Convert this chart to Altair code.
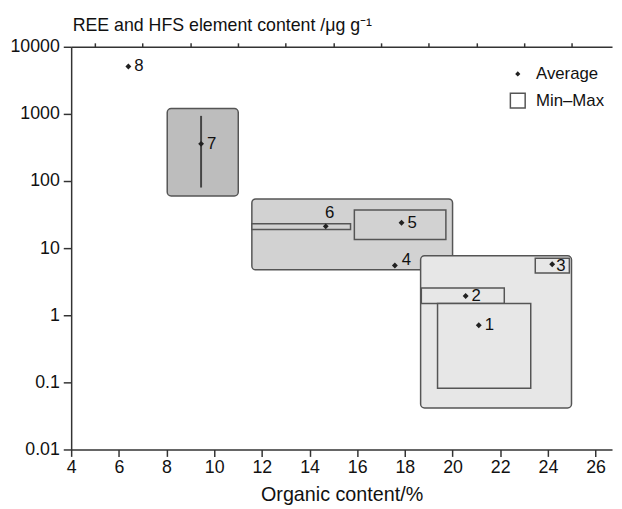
import altair as alt
import pandas as pd

# ---- data ----
# outer (rounded) min-max envelopes
outer_group = ["7", "4-6", "1-3"]
outer_xmin = [8.03, 11.58, 18.66]
outer_xmax = [11.01, 20.00, 24.99]
outer_ymin = [60.0, 4.75, 0.0415]
outer_ymax = [1200.0, 54.0, 7.7]

# inner min-max boxes of individual samples
inner_name = ["6", "5", "3", "2", "1"]
inner_group = ["4-6", "4-6", "1-3", "1-3", "1-3"]
inner_xmin = [11.58, 15.88, 23.47, 18.69, 19.37]
inner_xmax = [15.72, 19.72, 24.90, 22.17, 23.28]
inner_ymin = [19.0, 13.4, 4.25, 1.5, 0.082]
inner_ymax = [23.1, 37.0, 7.05, 2.55, 1.5]

# vertical range of sample 7
range7_x = [9.45]
range7_ymin = [80.0]
range7_ymax = [935.0]

# averages
avg_label = ["1", "2", "3", "4", "5", "6", "7", "8"]
avg_x = [21.10, 20.55, 24.18, 17.58, 17.86, 14.68, 9.45, 6.40]
avg_y = [0.71, 1.94, 5.75, 5.5, 23.9, 21.1, 358.0, 5080.0]

x_major = [4, 6, 8, 10, 12, 14, 16, 18, 20, 22, 24, 26]
x_minor = [5, 7, 9, 11, 13, 15, 17, 19, 21, 23, 25]
y_ticks = [0.01, 0.1, 1, 10, 100, 1000, 10000]

legend_kinds = ["Average", "Min–Max"]

outer_df = pd.DataFrame({"group": outer_group, "xmin": outer_xmin, "xmax": outer_xmax,
                         "ymin": outer_ymin, "ymax": outer_ymax})
inner_df = pd.DataFrame({"name": inner_name, "group": inner_group, "xmin": inner_xmin,
                         "xmax": inner_xmax, "ymin": inner_ymin, "ymax": inner_ymax})
range_df = pd.DataFrame({"x": range7_x, "ymin": range7_ymin, "ymax": range7_ymax})
avg_df = pd.DataFrame({"label": avg_label, "x": avg_x, "y": avg_y,
                       "kind": ["Average"] * len(avg_label)})

FONT = "Liberation Sans"
AX = "#333333"

xs = alt.Scale(domain=[4, 26.69], nice=False, zero=False)
ys = alt.Scale(type="log", domain=[0.01, 10000], nice=False)

fill_scale = alt.Scale(domain=["7", "4-6", "1-3"], range=["#bdbdbd", "#d2d2d2", "#e7e7e7"])

x_axis_major = alt.Axis(values=x_major, format="d", title="Organic content/%",
                        titleFontSize=20, titleFontWeight="normal", titleColor="#111",
                        titleY=52, titleBaseline="alphabetic",
                        labelFontSize=18, labelColor="#111", labelPadding=2, labelFlush=False,
                        tickSize=7, tickWidth=1.5, tickColor=AX,
                        domainColor=AX, domainWidth=1.5, grid=False)
x_axis_minor = alt.Axis(values=x_minor, labels=False, domain=False, title=None,
                        tickSize=4, tickWidth=1.5, tickColor=AX, grid=False)
x_axis_top = alt.Axis(orient="top", labels=False, ticks=False, title=None,
                      domain=True, domainColor=AX, domainWidth=1.5, grid=False)
y_axis = alt.Axis(values=y_ticks, format="~g", labelFontSize=18, labelColor="#111",
                  labelPadding=4, labelOverlap=False, labelFlush=False,
                  tickSize=8, tickWidth=1.5, tickColor=AX,
                  domainColor=AX, domainWidth=1.5, grid=False,
                  title="REE and HFS element content /μg g⁻¹", titleAngle=0,
                  titleAlign="left", titleX=1, titleY=-16, titleBaseline="alphabetic",
                  titleFontSize=18, titleFontWeight="normal", titleColor="#111")

outer = alt.Chart(outer_df).mark_rect(cornerRadius=4, stroke="#555555", strokeWidth=1.5).encode(
    x=alt.X("xmin:Q", scale=xs, axis=x_axis_major),
    x2="xmax:Q",
    y=alt.Y("ymin:Q", scale=ys, axis=y_axis),
    y2="ymax:Q",
    fill=alt.Fill("group:N", scale=fill_scale, legend=None),
)

inner = alt.Chart(inner_df).mark_rect(stroke="#555555", strokeWidth=1.5).encode(
    x=alt.X("xmin:Q", scale=xs, axis=x_axis_minor),
    x2="xmax:Q",
    y=alt.Y("ymin:Q", scale=ys, axis=None),
    y2="ymax:Q",
    fill=alt.Fill("group:N", scale=fill_scale, legend=None),
)

rule7 = alt.Chart(range_df).mark_rule(color="#444444", strokeWidth=2).encode(
    x=alt.X("x:Q", scale=xs, axis=x_axis_top),
    y=alt.Y("ymin:Q", scale=ys, axis=None),
    y2="ymax:Q",
)

leg = alt.Legend(title=None, orient="none", legendX=444, legendY=19, padding=0,
                 labelFontSize=17, labelFont=FONT, labelColor="#111", labelOffset=10,
                 rowPadding=8, symbolStrokeWidth=1.5)

dots = alt.Chart(avg_df).mark_point(filled=True, opacity=1).encode(
    x=alt.X("x:Q", scale=xs, axis=None),
    y=alt.Y("y:Q", scale=ys, axis=None),
    color=alt.Color("kind:N", scale=alt.Scale(domain=legend_kinds, range=["#222222", "#ffffff"]), legend=leg),
    stroke=alt.Stroke("kind:N", scale=alt.Scale(domain=legend_kinds, range=["#222222", "#555555"]), legend=leg),
    shape=alt.Shape("kind:N", scale=alt.Scale(domain=legend_kinds, range=["diamond", "square"]), legend=leg),
    size=alt.Size("kind:N", scale=alt.Scale(domain=legend_kinds, range=[10, 225]), legend=leg),
)

def label_layer(sel, **kw):
    return alt.Chart(avg_df).transform_filter(sel).mark_text(
        fontSize=17, font=FONT, color="#111", baseline="middle", **kw
    ).encode(
        x=alt.X("x:Q", scale=xs, axis=None),
        y=alt.Y("y:Q", scale=ys, axis=None),
        text="label:N",
    )

labels_main = label_layer("indexof(['1','2','5','7','8'], datum.label) >= 0", align="left", dx=6)
label6 = label_layer("datum.label == '6'", align="center", dx=4, dy=-13)
label4 = label_layer("datum.label == '4'", align="left", dx=7, dy=-6)
label3 = label_layer("datum.label == '3'", align="left", dx=4, dy=2)

chart = alt.layer(outer, inner, rule7, dots, labels_main, label6, label4, label3).resolve_axis(
    x="independent", y="independent"
).properties(
    width=548, height=408,
    autosize=alt.AutoSizeParams(type="none"),
    padding={"left": 64, "top": 36, "right": 2, "bottom": 57},
).configure(font=FONT).configure_view(stroke=None)

chart.save("out.html", embed_options={"renderer": "svg", "actions": False})
